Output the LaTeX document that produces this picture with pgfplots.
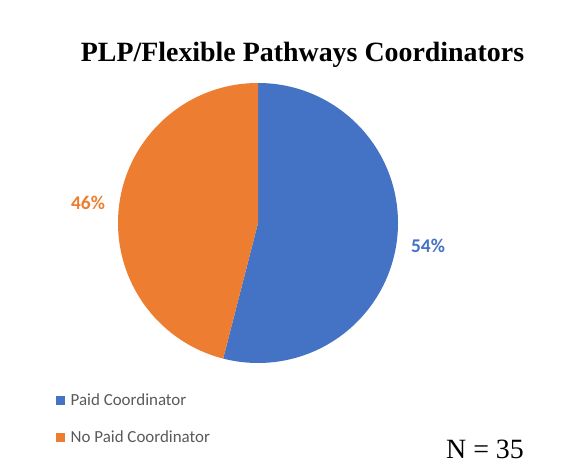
\documentclass[border=0pt]{standalone}
\usepackage{fontspec}
\setmainfont{Liberation Serif}
\newfontfamily\carlito{Carlito}
\usepackage{pgfplots}
\usepackage{pgfplotstable}
\pgfplotsset{compat=1.18}

\definecolor{pblue}{HTML}{4472C4}
\definecolor{porange}{HTML}{ED7D31}
\definecolor{legtext}{HTML}{595959}

% share of districts, percent
\pgfplotstableread{
label value
Paid 54
NoPaid 46
}\piedata
\pgfplotstablegetelem{0}{value}\of\piedata \edef\vA{\pgfplotsretval}
\pgfplotstablegetelem{1}{value}\of\piedata \edef\vB{\pgfplotsretval}

\begin{document}
\begin{tikzpicture}
\begin{axis}[
    x=1bp, y=1bp,
    xmin=0, xmax=571, ymin=0, ymax=476,
    hide axis, clip=false,
    legend cell align=left,
    legend image code/.code={\fill[#1, draw=none] (0bp,-4.5bp) rectangle (9bp,4.5bp);},
    legend style={
        at={(axis cs:56,82)}, anchor=north west,
        draw=none, fill=none, inner sep=0pt,
        font=\carlito\fontsize{17}{19}\selectfont,
        text=legtext, row sep=23bp,
        nodes={inner xsep=5.5bp, inner ysep=0bp},
    },
]
\path (axis cs:0,0) rectangle (axis cs:571,476);

% slices, clockwise from 12 o'clock
\fill[pblue] (axis cs:258,253) -- (axis cs:258,393)
    arc[start angle=90, end angle={90-3.6*\vA}, radius=140bp] -- cycle;
\fill[porange] (axis cs:258,253) -- (axis cs:258,393)
    arc[start angle=90, end angle={90+3.6*\vB}, radius=140bp] -- cycle;

\addlegendimage{fill=pblue}
\addlegendentry{Paid Coordinator}
\addlegendimage{fill=porange}
\addlegendentry{No Paid Coordinator}

\node[anchor=base, text=pblue, font=\carlito\bfseries\fontsize{19.5}{22}\selectfont]
    at (axis cs:428,223) {\vA\%};
\node[anchor=base, text=porange, font=\carlito\bfseries\fontsize{19.5}{22}\selectfont]
    at (axis cs:88,266) {\vB\%};

\node[anchor=base, font=\bfseries\fontsize{28}{32}\selectfont]
    at (axis cs:302.5,414) {PLP/Flexible Pathways Coordinators};
\node[anchor=base, font=\fontsize{28}{32}\selectfont]
    at (axis cs:485,17) {N = 35};
\end{axis}
\end{tikzpicture}
\end{document}
